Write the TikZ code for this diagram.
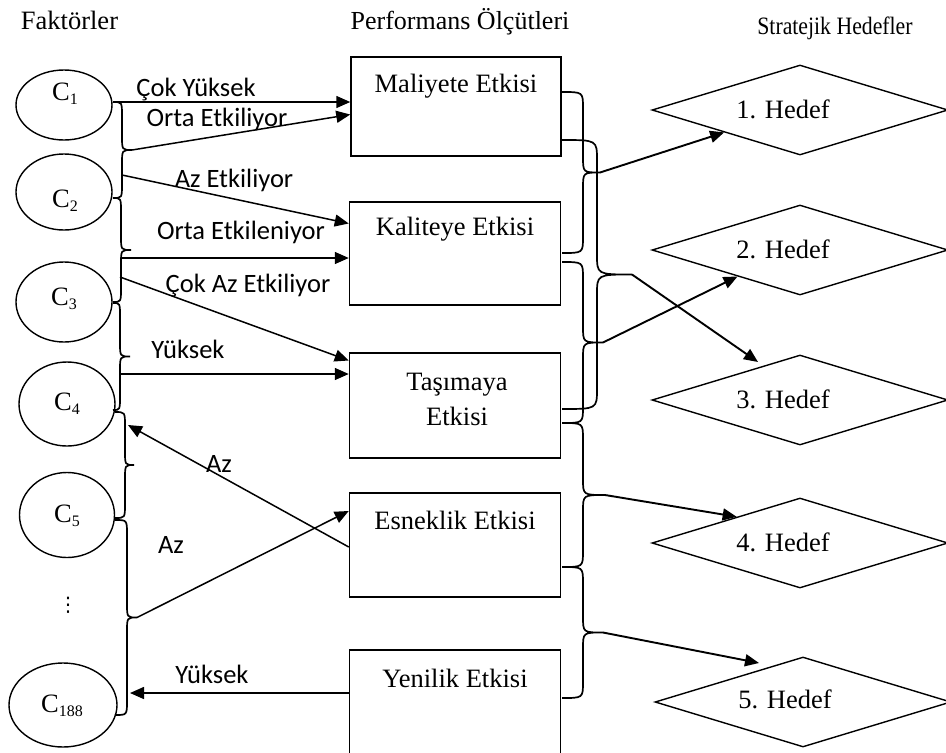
\documentclass[tikz,border=0pt]{standalone}
\usepackage{fontspec}
\setmainfont{Liberation Serif}
\newfontfamily\lblfont{Carlito}
\newfontfamily\symfont{DejaVu Sans}
\usetikzlibrary{arrows.meta,shapes.geometric,calc}

% C with a lowered small index
\newcommand\Csub[1]{C\raisebox{-4pt}{\fontsize{16}{16}\selectfont #1}}

% curly brace: x0, yA, yB, x of stem, x of tip, curl size, tip name
\newcommand\curly[7]{%
  \pgfmathsetmacro\bym{(#2+#3)/2}%
  \coordinate (#7) at (#5,\bym);
  \draw[bracestyle] (#1,#2) .. controls (#4,#2) .. (#4,#2+#6) -- (#4,\bym-#6)
    .. controls (#4,\bym) .. (#7) .. controls (#4,\bym) .. (#4,\bym+#6)
    -- (#4,#3-#6) .. controls (#4,#3) .. (#1,#3);
}

\begin{document}
\begin{tikzpicture}[x=1pt,y=-1pt,
  serif/.style={font=\fontsize{26.5}{30}\selectfont, inner sep=0pt, anchor=base},
  lbl/.style={font=\lblfont\fontsize{26.5}{30}\selectfont, inner sep=0pt, anchor=base},
  factor/.style={ellipse, draw, line width=1.4pt, inner sep=0pt},
  measure/.style={rectangle, draw, line width=1.5pt, minimum width=211pt, inner sep=0pt},
  goal/.style={diamond, draw, line width=1.4pt, minimum width=296pt, minimum height=90pt, inner sep=0pt},
  bracestyle/.style={line width=1.7pt},
  arr/.style={line width=1.5pt, -{Triangle[length=14pt,width=12pt]}},
  arrR/.style={line width=1.9pt, -{Triangle[length=14pt,width=12pt]}},
]
\useasboundingbox (0,0) rectangle (946,753);

% column headings
\node[serif] (hf) at (69.5,29) {Faktörler};
\node[serif, font=\fontsize{26}{30}\selectfont] (hp) at (460,29) {Performans Ölçütleri};
\node[serif, font=\fontsize{25}{28}\selectfont] (hs) at (835,34) {\scalebox{0.87}[1]{Stratejik Hedefler}};

% factors
\node[factor, minimum width=96pt, minimum height=70pt] (c1) at (64,105) {};
\node[factor, minimum width=96pt, minimum height=76pt] (c2) at (64,192) {};
\node[factor, minimum width=96pt, minimum height=80pt] (c3) at (64,302) {};
\node[factor, minimum width=96pt, minimum height=84pt] (c4) at (67,404) {};
\node[factor, minimum width=95pt, minimum height=85pt] (c5) at (67,515) {};
\node[factor, minimum width=108pt, minimum height=84pt] (c188) at (63,705) {};
\node[serif] (c1t) at (65,100) {\Csub{1}};
\node[serif] (c2t) at (65,207) {\Csub{2}};
\node[serif] (c3t) at (64,305) {\Csub{3}};
\node[serif] (c4t) at (67,410) {\Csub{4}};
\node[serif] (c5t) at (67,522) {\Csub{5}};
\node[serif] (c188t) at (62,712) {\Csub{188}};
\node[font=\symfont\fontsize{20}{20}\selectfont, inner sep=0pt] (dots) at (68,605) {⋮};

% performance measures
\node[measure, minimum width=210pt, minimum height=99pt] (mal) at (456,106.5) {};
\node[measure, minimum height=103pt] (kal) at (455,253.5) {};
\node[measure, minimum height=105pt] (tas) at (455,405.5) {};
\node[measure, minimum height=104pt] (esn) at (455,545) {};
\node[measure, minimum height=110pt] (yen) at (455,705) {};
\node[serif] (malt) at (456,92) {Maliyete Etkisi};
\node[serif] (kalt) at (455,235) {Kaliteye Etkisi};
\node[serif] (tast1) at (457,390) {Taşımaya};
\node[serif] (tast2) at (457,425) {Etkisi};
\node[serif] (esnt) at (455,529) {Esneklik Etkisi};
\node[serif] (yent) at (455,687) {Yenilik Etkisi};

% strategic goals
\node[goal] (h1) at (800,110) {};
\node[goal] (h2) at (800,250) {};
\node[goal] (h3) at (800,400) {};
\node[goal] (h4) at (800,543) {};
\node[goal] (h5) at (803,702) {};
\node[serif] (h1t) at (783,118) {1. Hedef};
\node[serif] (h2t) at (783,258) {2. Hedef};
\node[serif] (h3t) at (783,408) {3. Hedef};
\node[serif] (h4t) at (783,551) {4. Hedef};
\node[serif] (h5t) at (785,708) {5. Hedef};

% braces joining neighbouring factors
\curly{113}{102}{198}{122}{132}{14}{lb1}
\curly{113}{198}{302}{121}{131}{14}{lb2}
\curly{113}{303}{410}{120}{130}{14}{lb3}
\curly{115}{412}{518}{125}{134}{14}{lb4}
\curly{115}{520}{715}{127}{137}{14}{lb5}

% braces joining neighbouring measures
\curly{562}{92}{253}{583}{600}{16}{rb1}
\curly{562}{140}{409}{597}{632}{20}{rb2}
\curly{562}{262}{423}{583}{603}{16}{rb3}
\curly{562}{423}{567}{583}{605}{16}{rb4}
\curly{562}{567}{698}{583}{603}{16}{rb5}

% factor -> measure links
\coordinate (c1r) at (113,102);
\coordinate (s3) at (122,175);
\coordinate (s4) at (121,258);
\coordinate (s5) at (120,277);
\coordinate (s6) at (120,374);
\coordinate (e7) at (128,425);
\coordinate (e9) at (130,693);
\draw[arr] (c1r) -- (c1r -| mal.west);
\draw[arr] (lb1) -- ([yshift=-8pt]mal.west);
\draw[arr] (s3) -- ([yshift=30pt]kal.west);
\draw[arr] (s4) -- (s4 -| kal.west);
\draw[arr] (s5) -- ([yshift=45pt]tas.west);
\draw[arr] (s6) -- (s6 -| tas.west);
\draw[arr] ([yshift=-2pt]esn.west) -- (e7);
\draw[arr] (lb5) -- ([yshift=34pt]esn.west);
\draw[arr] (e9 -| yen.west) -- (e9);

\node[lbl] (l1) at (196,96) {Çok Yüksek};
\node[lbl] (l2) at (217,126) {Orta Etkiliyor};
\node[lbl] (l3) at (234,187) {Az Etkiliyor};
\node[lbl] (l4) at (241,239) {Orta Etkileniyor};
\node[lbl] (l5) at (248,292) {Çok Az Etkiliyor};
\node[lbl] (l6) at (188,358) {Yüksek};
\node[lbl] (l7) at (219,472) {Az};
\node[lbl] (l8) at (171,553) {Az};
\node[lbl] (l9) at (212,683) {Yüksek};

% measure -> goal links
\coordinate (e2) at (758,362);
\coordinate (e5) at (759,663);
\draw[arrR] (rb1) -- ($(h1.west)!0.49!(h1.south)$);
\draw[arrR] (rb2) -- (e2);
\draw[arrR] (rb3) -- ($(h2.west)!0.58!(h2.south)$);
\draw[arrR] (rb4) -- ($(h4.west)!0.574!(h4.north)$);
\draw[arrR] (rb5) -- (e5);
\end{tikzpicture}
\end{document}
